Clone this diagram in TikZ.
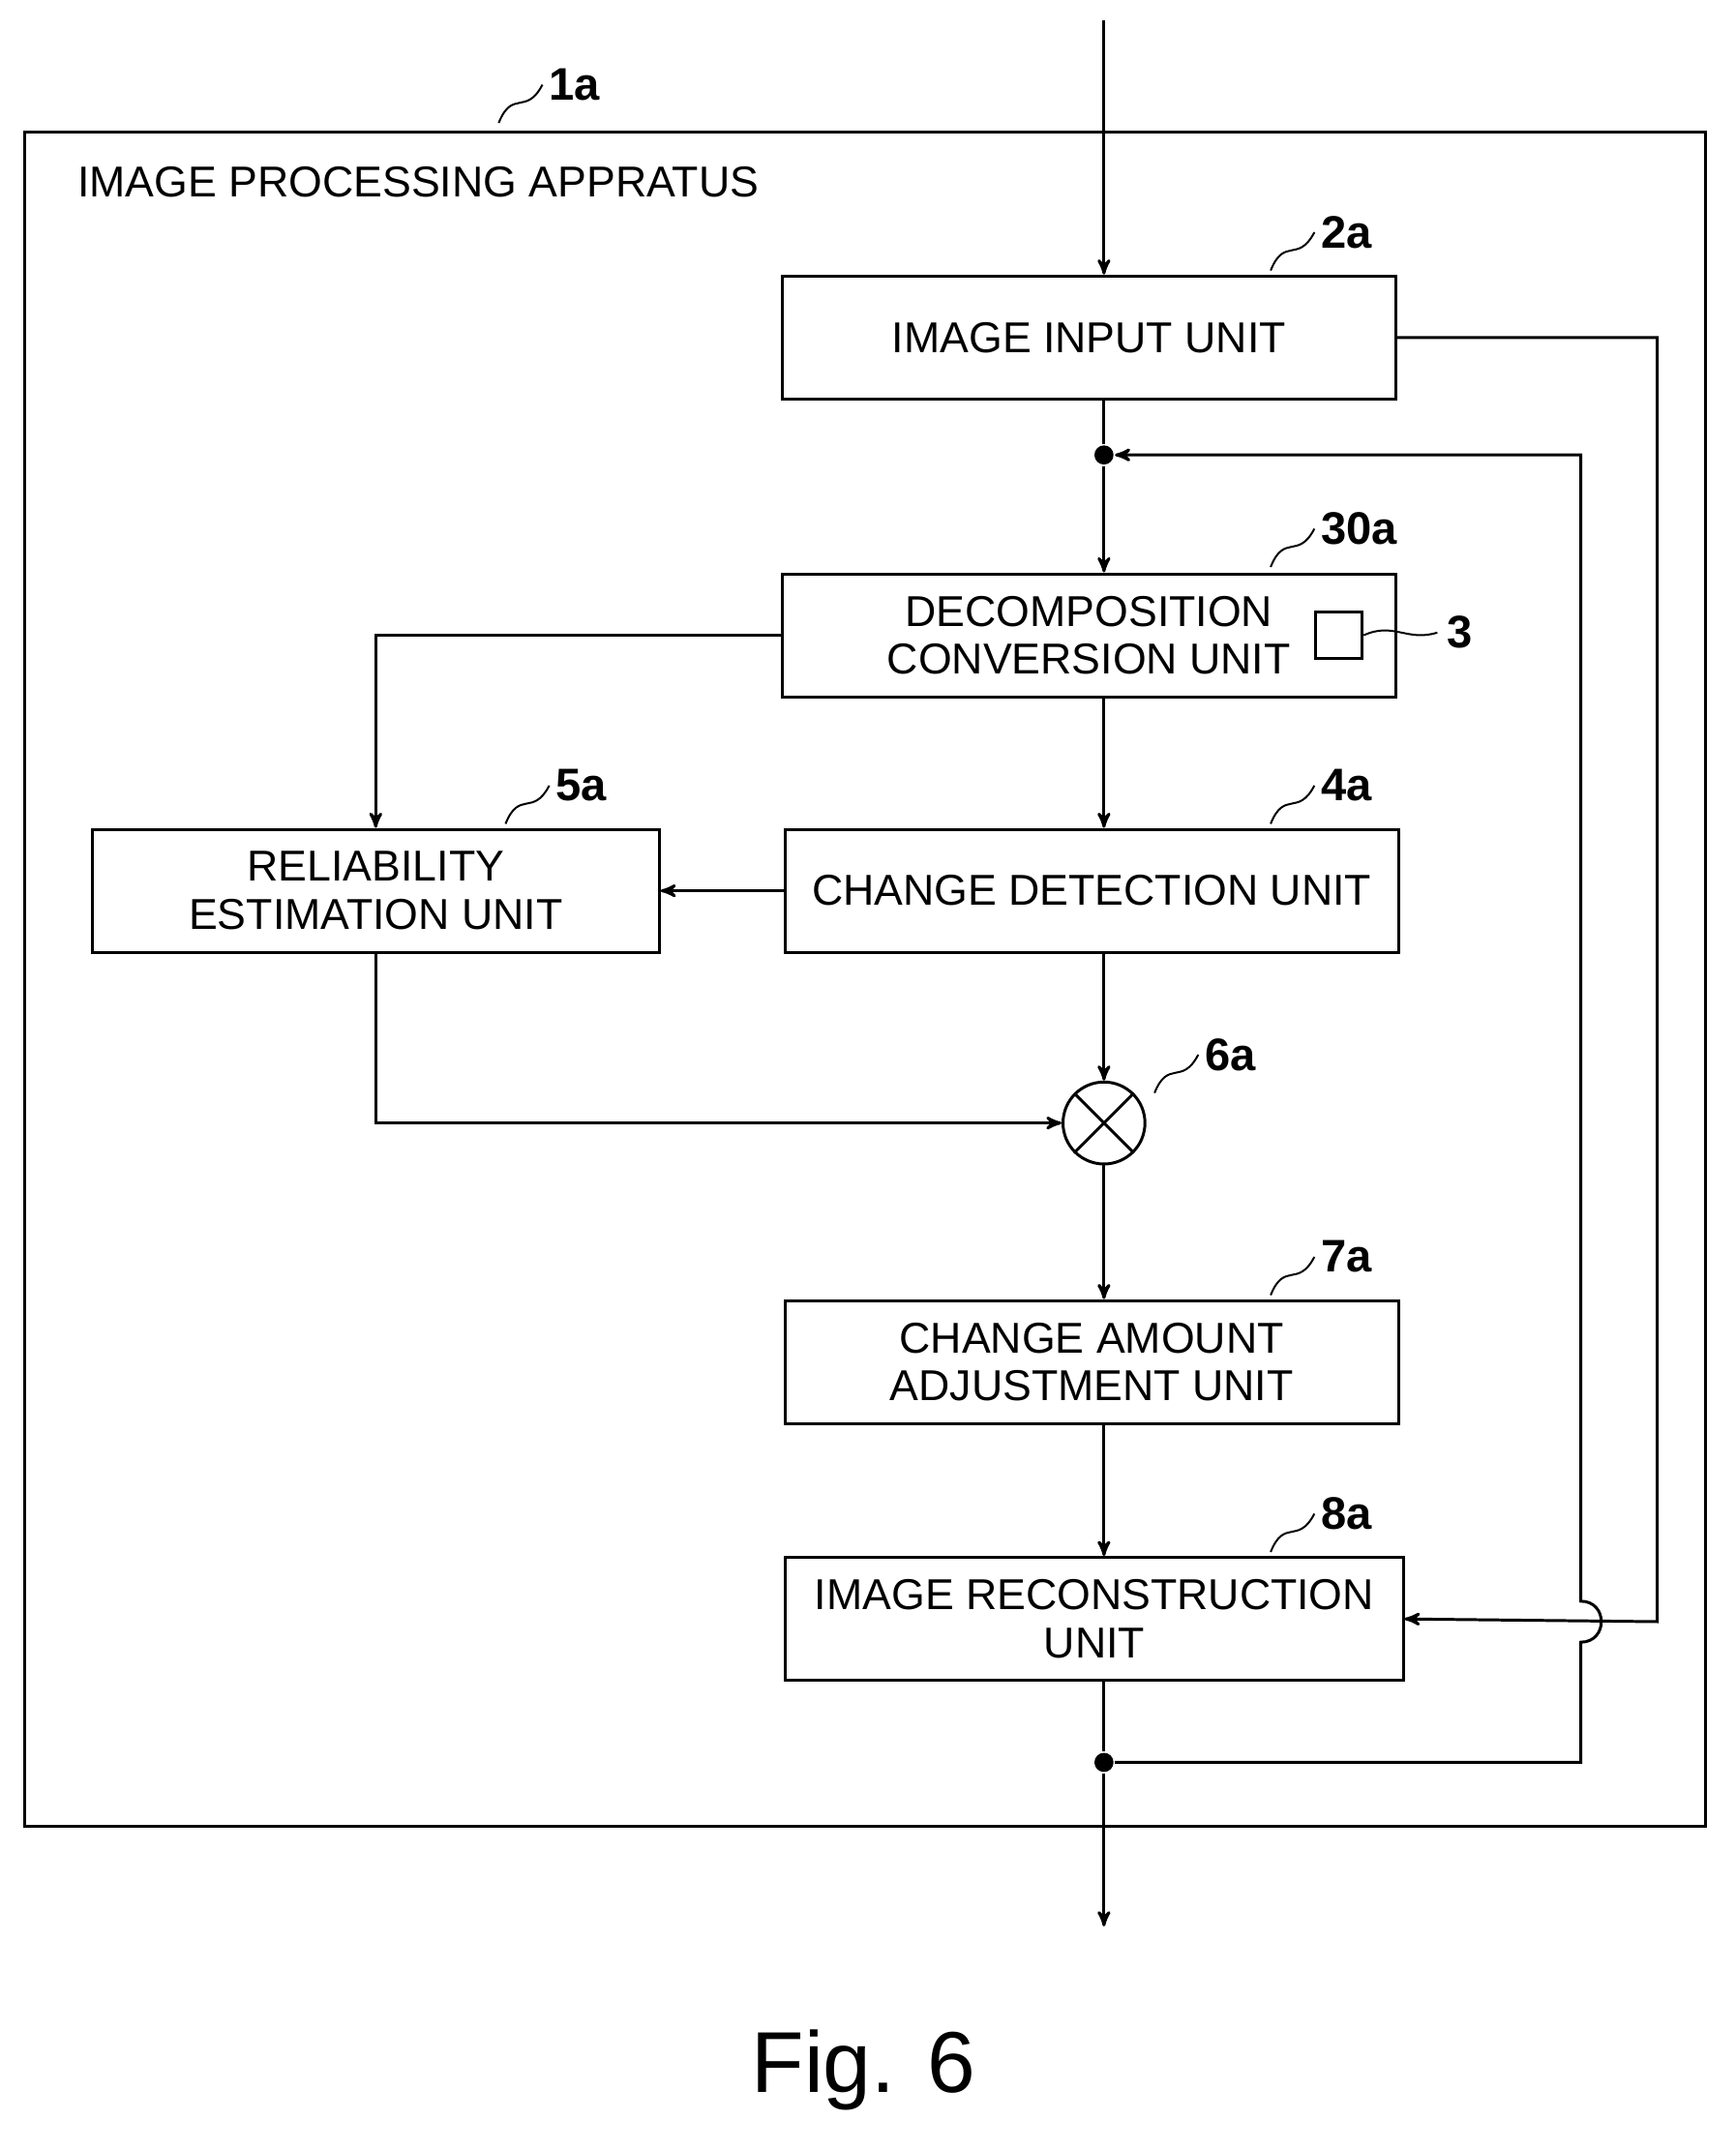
\documentclass[tikz,border=0pt]{standalone}
\usepackage{fontspec}
\setmainfont{Liberation Sans}
\usetikzlibrary{arrows,positioning,calc}

\begin{document}
\begin{tikzpicture}[x=0.02cm, y=-0.02cm, ->, >=stealth', semithick,
                    line width=1.2pt]
    \tikzset{unit/.style={draw, rectangle, minimum width=8.98cm,
                          minimum height=1.8cm, align=center, inner sep=0pt,
                          font=\fontsize{18}{20}\selectfont},
             tag/.style={font=\bfseries\fontsize{19}{20}\selectfont, anchor=west},
             dot/.style={circle, fill, inner sep=0pt, minimum size=0.28cm}}
    \useasboundingbox (0,0) rectangle (1270,1573);

    % frame
    \draw[-] (18,97) rectangle (1248,1337);
    \node[anchor=west, font=\fontsize{18}{20}\selectfont] (title) at (50,133)
        {IMAGE PROCESSING APPRATUS};

    % units
    \node[unit]                         (input)  at (797,247)  {IMAGE INPUT UNIT};
    \node[unit]                         (decomp) at (797,465)  {DECOMPOSITION\\CONVERSION UNIT\hspace{0.6cm}};
    \node[unit]                         (detect) at (799,652)  {CHANGE DETECTION UNIT};
    \node[unit, minimum width=8.3cm]    (rel)    at (275,652)  {RELIABILITY\\ESTIMATION UNIT};
    \node[draw, circle, minimum size=1.2cm, inner sep=0pt] (mult) at (808,822) {};
    \draw[-] (mult.north west) -- (mult.south east);
    \draw[-] (mult.north east) -- (mult.south west);
    \node[unit]                         (adjust) at (799,997)  {CHANGE AMOUNT\\ADJUSTMENT UNIT};
    \node[unit, minimum width=9.04cm]   (recon)  at (801,1185) {IMAGE RECONSTRUCTION\\UNIT};
    \node[draw, rectangle, minimum size=0.68cm, inner sep=0pt] (sq) at (980,465) {};

    \node[dot] (top) at (808,333) {};
    \node[dot] (bot) at (808,1290) {};
    \coordinate (in)  at (808,15);
    \coordinate (out) at (808,1410);

    % tags
    \foreach \nm/\px/\py/\tx in {1a/365/90/1a, 2a/930/198/2a, 30a/930/415/30a,
                                  5a/370/603/5a, 4a/930/603/4a, 6a/845/800/6a,
                                  7a/930/948/7a, 8a/930/1136/8a} {
        \draw[-, line width=0.8pt] (\px,\py) .. controls (\px+10,\py-25) and (\px+20,\py-5) .. (\px+32,\py-28);
        \node[tag] (t\nm) at (\px+30,\py-28) {\tx};
    }
    \draw[-, line width=0.8pt] (sq.east) .. controls (1020,455) and (1030,470) .. (1052,463);
    \node[tag] (t3) at (1052,463) {3};

    % connectors
    \draw (in) -- (in |- input.north);
    \draw[-] (top |- input.south) -- (top);
    \draw (top) -- (top |- decomp.north);
    \draw (top |- decomp.south) -- (top |- detect.north);
    \draw (decomp.west) -| (rel.north);
    \draw (detect.west) -- (rel.east);
    \draw (top |- detect.south) -- (mult.north);
    \draw (rel.south) |- (mult.west);
    \draw (mult.south) -- (top |- adjust.north);
    \draw (top |- adjust.south) -- (top |- recon.north);
    \draw[-] (top |- recon.south) -- (bot);
    \draw (bot) -- (out);
    \draw (input.east) -- (1213,247) -- (1213,1187) -- (recon.east);
    \draw (bot) -- (1157,1290) -- (1157,1202)
          .. controls (1177,1202) and (1177,1172) .. (1157,1172)
          -- (1157,333) -- (top);

    \node[font=\fontsize{36}{38}\selectfont] (fig) at (632,1515) {Fig. 6};
\end{tikzpicture}
\end{document}
